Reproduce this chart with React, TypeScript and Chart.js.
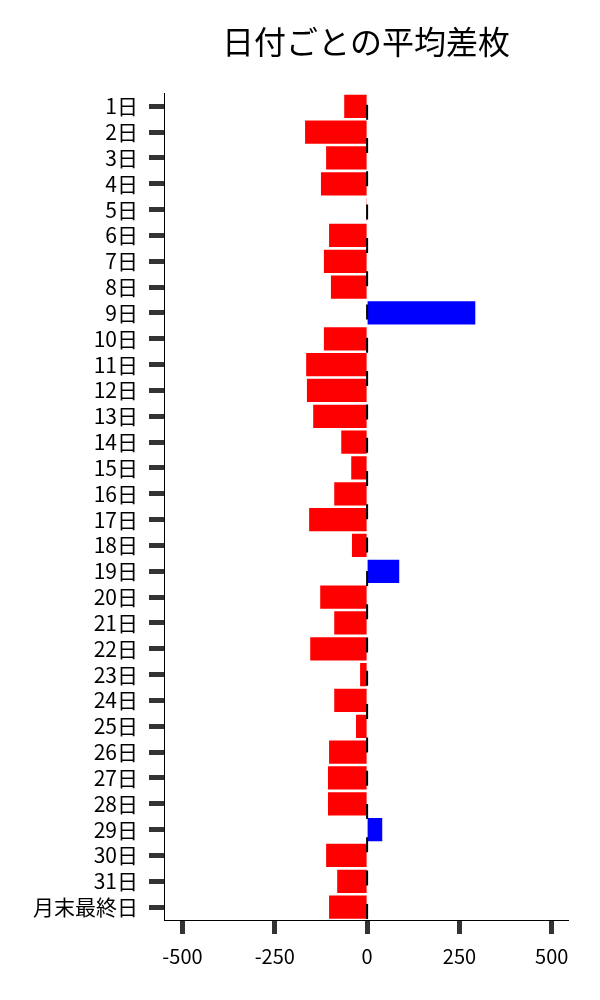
import { useEffect, useRef } from "react"
import { Chart, registerables } from "chart.js"

Chart.register(...registerables)

const days = [
  "1日", "2日", "3日", "4日", "5日", "6日", "7日", "8日", "9日", "10日",
  "11日", "12日", "13日", "14日", "15日", "16日", "17日", "18日", "19日", "20日",
  "21日", "22日", "23日", "24日", "25日", "26日", "27日", "28日", "29日", "30日",
  "31日", "月末最終日",
]
const avgDiff = [
  -62, -168, -111, -125, -2, -103, -117, -98, 293, -117,
  -165, -163, -146, -70, -43, -89, -157, -41, 87, -127,
  -89, -154, -19, -89, -30, -103, -106, -106, 41, -111,
  -81, -103,
]
const xTicks = [-500, -250, 0, 250, 500]

const FONT = "'Noto Sans CJK JP', 'Noto Sans', sans-serif"

// dashed vertical line at x = 0
const zeroLine = {
  id: "zeroLine",
  afterDatasetsDraw(chart: Chart) {
    const { ctx, chartArea, scales } = chart
    const x = scales.x.getPixelForValue(0)
    ctx.save()
    ctx.strokeStyle = "#000"
    ctx.lineWidth = 2
    ctx.setLineDash([15, 18.3])
    ctx.lineDashOffset = 22
    ctx.beginPath()
    ctx.moveTo(x, chartArea.top)
    ctx.lineTo(x, chartArea.bottom)
    ctx.stroke()
    ctx.restore()
  },
}

export default function App() {
  const chartRef = useRef<HTMLCanvasElement>(null)
  const chartInstance = useRef<Chart | null>(null)

  useEffect(() => {
    document.body.style.margin = "0"
    if (!chartRef.current) return
    if (chartInstance.current) chartInstance.current.destroy()
    const ctx = chartRef.current.getContext("2d")
    if (!ctx) return

    chartInstance.current = new Chart(ctx, {
      type: "bar",
      data: {
        labels: days,
        datasets: [
          {
            data: avgDiff,
            backgroundColor: avgDiff.map((v) => (v >= 0 ? "#0000ff" : "#ff0000")),
            barPercentage: 0.9,
            categoryPercentage: 1,
          },
        ],
      },
      options: {
        indexAxis: "y",
        responsive: false,
        animation: false,
        layout: { padding: { left: 0, right: 32, top: 0, bottom: 0 } },
        scales: {
          x: {
            min: -550,
            max: 544,
            afterBuildTicks: (scale: any) => {
              scale.ticks = xTicks.map((v) => ({ value: v }))
            },
            afterFit: (scale: any) => {
              scale.height = 80
            },
            grid: {
              drawOnChartArea: false,
              tickLength: 14,
              tickWidth: 5,
              tickColor: "#333",
            },
            border: { display: true, color: "#000", width: 1 },
            ticks: {
              color: "#000",
              font: { family: FONT, size: 20 },
              padding: 10,
              maxRotation: 0,
            },
          },
          y: {
            afterFit: (scale: any) => {
              scale.width = 164
            },
            grid: {
              offset: false,
              drawOnChartArea: false,
              tickLength: 15,
              tickWidth: 5,
              tickColor: "#333",
            },
            border: { display: true, color: "#000", width: 1 },
            ticks: {
              color: "#000",
              font: { family: FONT, size: 21 },
              padding: 11,
              autoSkip: false,
            },
          },
        },
        plugins: {
          legend: { display: false },
          tooltip: { enabled: false },
          title: {
            display: true,
            text: "日付ごとの平均差枚",
            fullSize: false,
            color: "#000",
            font: { family: FONT, size: 32, weight: "normal", lineHeight: 1.2 },
            padding: { top: 23, bottom: 32 },
          },
        },
      },
      plugins: [zeroLine],
    })

    return () => {
      if (chartInstance.current) {
        chartInstance.current.destroy()
        chartInstance.current = null
      }
    }
  }, [])

  return <canvas ref={chartRef} width={600} height={1000} />
}
